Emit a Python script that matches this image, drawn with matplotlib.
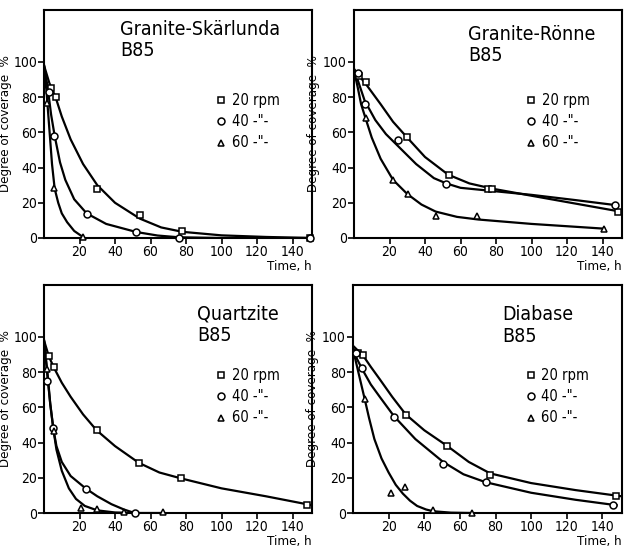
import matplotlib.pyplot as plt

plt.rcParams['font.family'] = 'DejaVu Sans'
plt.rcParams['font.stretch'] = 'condensed'

# --- measured points (time h, degree of coverage %) ---
# Granite-Skärlunda B85
skl_t20 = [3.7, 6.5, 30, 54.3, 78, 150]
skl_c20 = [85, 80, 28, 13.3, 3.8, 0]
skl_t40 = [2.7, 5.9, 24, 52, 76, 150]
skl_c40 = [83, 58, 13.6, 3.4, 0, 0]
skl_t60 = [1.4, 5.9, 22]
skl_c60 = [76.5, 28.4, 0.8]

# Granite-Rönne B85
ron_t20 = [2.8, 7, 30, 53.4, 75.5, 78, 149]
ron_c20 = [92, 88.4, 57.4, 36, 28, 28, 15]
ron_t40 = [2, 6, 24.7, 51.6, 146.9]
ron_c40 = [93.5, 76.3, 55.9, 30.7, 18.6]
ron_t60 = [6.5, 22, 30.3, 46, 69.3, 140.6]
ron_c60 = [68, 33, 25, 12.7, 12.7, 5.3]

# Quartzite B85
qua_t20 = [2.7, 5.5, 29.6, 53.4, 77.4, 148]
qua_c20 = [89, 82.7, 47, 28.5, 19.6, 4.8]
qua_t40 = [1.8, 5.2, 23.4, 51]
qua_c40 = [75, 48, 13.9, 0]
qua_t60 = [1.8, 5.5, 20.6, 29.6, 45, 67]
qua_c60 = [82, 46.6, 2.9, 2.5, 0.6, 0.6]

# Diabase B85
dia_t20 = [2.8, 5.6, 29.6, 53, 76.9, 147.8]
dia_c20 = [91, 90, 55.5, 38.3, 21.8, 9.8]
dia_t40 = [1.9, 5, 23, 50.6, 74.4, 145.9]
dia_c40 = [91, 82.2, 54.5, 28, 17.4, 4.4]
dia_t60 = [6.5, 21.2, 29.4, 45, 67]
dia_c60 = [65, 11.4, 14.8, 1.5, 0]

# --- hand-drawn fitted curves ---
skl_f20_t = [0, 3, 6.5, 10, 15, 22, 30, 40, 54, 66, 78, 100, 125, 150]
skl_f20_c = [98, 88, 80, 69, 56, 42, 30, 20, 11, 6, 3.5, 1.5, 0.6, 0]
skl_f40_t = [0, 2, 4, 6, 9, 12, 17, 24, 35, 52, 64, 76, 100, 150]
skl_f40_c = [98, 86, 70, 58, 43, 33, 22, 14, 8, 3.4, 1.4, 0.4, 0, 0]
skl_f60_t = [0, 1.5, 3, 4.5, 6, 8, 10, 13, 17, 22]
skl_f60_c = [98, 82, 62, 42, 28, 20, 14, 9, 4, 0.5]

ron_f20_t = [0, 3, 7, 15, 22, 30, 40, 53, 65, 78, 100, 125, 150]
ron_f20_c = [96, 92, 87, 76, 66, 57, 46, 36, 31, 28, 24, 19.5, 15]
ron_f40_t = [0, 3, 6, 12, 18, 25, 35, 45, 52, 60, 75, 100, 125, 148]
ron_f40_c = [96, 87, 78, 67, 59, 52, 42, 34, 31, 28.5, 27, 24.5, 21.5, 18.6]
ron_f60_t = [0, 2, 4, 6.5, 10, 15, 22, 30, 38, 46, 58, 70, 100, 141]
ron_f60_c = [95, 86, 76, 68, 57, 45, 33, 25, 19, 15, 12, 10.5, 8, 5.3]

qua_f20_t = [0, 2.7, 5.5, 10, 15, 22, 29.6, 40, 53.4, 65, 77.4, 100, 125, 150]
qua_f20_c = [98, 89, 82.7, 74, 66, 56, 47, 38, 28.5, 23, 19.6, 14, 9.5, 4.6]
qua_f40_t = [0, 1, 2, 3.5, 5.2, 7, 10, 15, 23.4, 30, 38, 45, 51]
qua_f40_c = [98, 88, 77, 62, 48, 38, 29, 21, 14, 9.5, 5, 2, 0]
qua_f60_t = [0, 1, 2, 3.5, 5.5, 7, 10, 14, 18, 23, 30, 40, 52, 67]
qua_f60_c = [98, 88, 79, 62, 46, 36, 24, 14, 8, 4, 1.5, 0.3, 0, 0]

dia_f20_t = [0, 3, 5.6, 10, 15, 22, 29.6, 40, 53, 65, 77, 100, 125, 150]
dia_f20_c = [95, 92, 89.5, 83, 76, 66, 56, 47, 38, 29, 22.5, 17, 13, 9.6]
dia_f40_t = [0, 2, 5, 10, 15, 23, 35, 50.6, 62, 74.4, 100, 125, 148]
dia_f40_c = [94, 88, 82, 73, 66, 55, 42, 29, 22, 17.5, 11.5, 7.5, 4.4]
dia_f60_t = [0, 3, 6.5, 9, 12, 16, 20, 24, 28, 32, 36, 41, 45, 55, 67]
dia_f60_c = [93, 80, 65, 54, 42, 31, 23, 16, 11, 7, 4, 2, 1, 0.2, 0]

panels = [
    ("Granite-Skärlunda\nB85", (0.284, 0.955),
     [(skl_t20, skl_c20), (skl_t40, skl_c40), (skl_t60, skl_c60)],
     [(skl_f20_t, skl_f20_c), (skl_f40_t, skl_f40_c), (skl_f60_t, skl_f60_c)]),
    ("Granite-Rönne\nB85", (0.425, 0.935),
     [(ron_t20, ron_c20), (ron_t40, ron_c40), (ron_t60, ron_c60)],
     [(ron_f20_t, ron_f20_c), (ron_f40_t, ron_f40_c), (ron_f60_t, ron_f60_c)]),
    ("Quartzite\nB85", (0.57, 0.915),
     [(qua_t20, qua_c20), (qua_t40, qua_c40), (qua_t60, qua_c60)],
     [(qua_f20_t, qua_f20_c), (qua_f40_t, qua_f40_c), (qua_f60_t, qua_f60_c)]),
    ("Diabase\nB85", (0.556, 0.91),
     [(dia_t20, dia_c20), (dia_t40, dia_c40), (dia_t60, dia_c60)],
     [(dia_f20_t, dia_f20_c), (dia_f40_t, dia_f40_c), (dia_f60_t, dia_f60_c)]),
]

positions = [
    [0.0701, 0.5704, 0.4268, 0.4116],
    [0.5637, 0.5704, 0.4268, 0.4116],
    [0.0701, 0.0740, 0.4268, 0.4116],
    [0.5621, 0.0740, 0.4283, 0.4116],
]
ylabel_x = [-0.118, -0.128, -0.118, -0.128]

markers = ['s', 'o', '^']
legend_labels = ['20 rpm', '40 -"-', '60 -"-']

fig = plt.figure(figsize=(6.28, 5.54), dpi=100)

for (title, tpos, points, curves), pos, lx in zip(panels, positions, ylabel_x):
    ax = fig.add_axes(pos)

    # fitted curves
    for t, c in curves:
        ax.plot(t, c, color='black', lw=1.6, solid_joinstyle='round', zorder=2)

    # measured points
    for (t, c), m in zip(points, markers):
        ax.plot(t, c, linestyle='none', marker=m, markersize=5,
                markerfacecolor='white', markeredgecolor='black',
                markeredgewidth=1.1, zorder=3, clip_on=False)

    ax.set_xlim(0, 151)
    ax.set_ylim(0, 129.5)
    ax.set_xticks([20, 40, 60, 80, 100, 120, 140])
    ax.set_yticks([0, 20, 40, 60, 80, 100])
    ax.tick_params(direction='out', length=4, width=1.2, labelsize=10, pad=1)
    for s in ax.spines.values():
        s.set_linewidth(1.5)

    ax.set_ylabel("Degree of coverage  %", fontsize=9.5)
    ax.yaxis.set_label_coords(lx, 0.5)
    ax.set_xlabel("Time, h", fontsize=9.5, loc='right', labelpad=1)

    ax.text(tpos[0], tpos[1], title, transform=ax.transAxes, fontsize=14,
            ha='left', va='top', linespacing=1.15)

    # hand-made legend
    for i, (m, lab) in enumerate(zip(markers, legend_labels)):
        y = 0.605 - i * 0.094
        ax.plot([0.66], [y], transform=ax.transAxes, linestyle='none', marker=m,
                markersize=5, markerfacecolor='white', markeredgecolor='black',
                markeredgewidth=1.1)
        ax.text(0.70, y, lab, transform=ax.transAxes, fontsize=10.5,
                ha='left', va='center')

fig.savefig("out.png", dpi=100)
